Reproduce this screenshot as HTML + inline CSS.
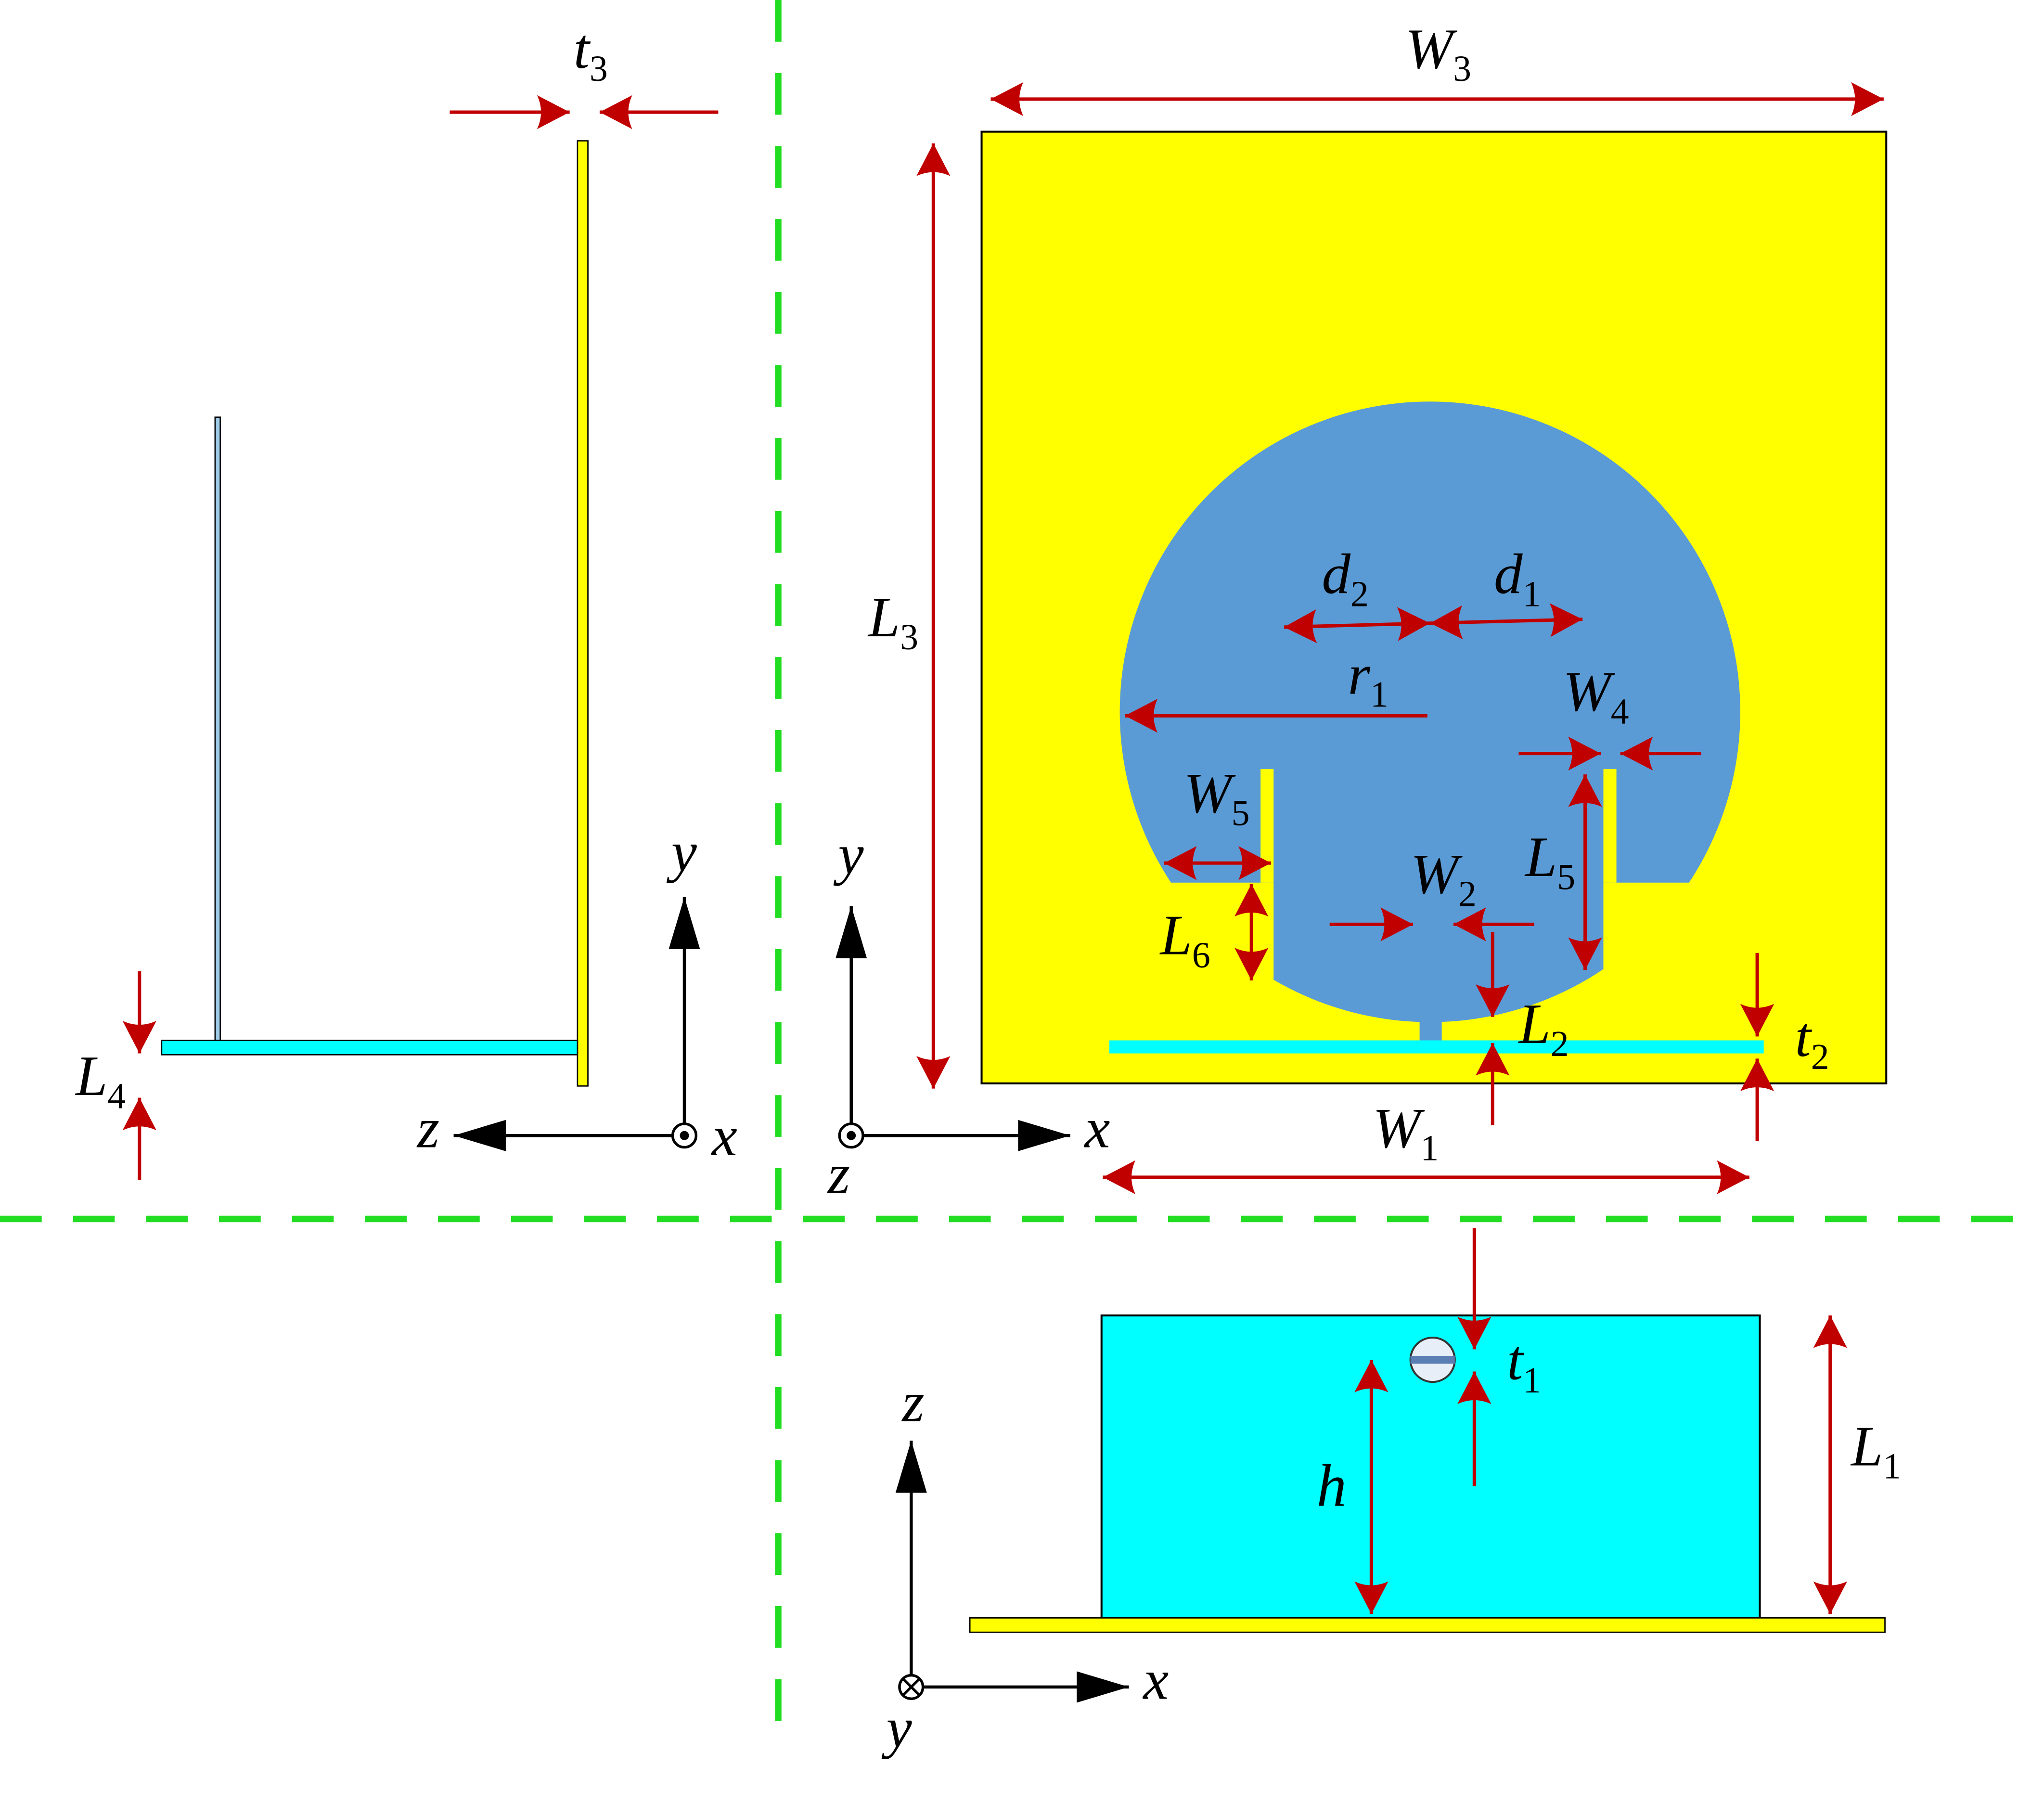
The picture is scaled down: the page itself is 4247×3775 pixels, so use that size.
<!DOCTYPE html>
<html><head><meta charset="utf-8"><style>
html,body{margin:0;padding:0;background:#fff;}
svg{display:block}
text{font-family:"Liberation Serif",serif;font-style:italic;fill:#000}
</style></head><body>
<svg width="4247" height="3775" viewBox="0 0 1568 1393.7" xmlns="http://www.w3.org/2000/svg">
<defs>
<marker id="r" markerUnits="userSpaceOnUse" markerWidth="30" markerHeight="30" viewBox="-26 -14 30 28" refX="0" refY="0" orient="auto-start-reverse">
<path d="M0,0 L-25,-13 Q-19,0 -25,13 Z" fill="#c00000"/>
</marker>
<marker id="b" markerUnits="userSpaceOnUse" markerWidth="44" markerHeight="30" viewBox="-42 -14 44 28" refX="0" refY="0" orient="auto">
<path d="M0,0 L-40,-12 L-40,12 Z" fill="#000"/>
</marker>
<clipPath id="cp">
<rect x="800" y="250" width="600" height="427"/>
<rect x="977" y="600" width="253" height="300"/>
</clipPath>
</defs>

<g stroke="#22dd22" stroke-width="5" stroke-dasharray="32,24">
<line x1="597" y1="0" x2="597" y2="1340"/>
<line x1="0" y1="935" x2="1568" y2="935"/>
</g>

<rect x="443" y="108" width="8" height="725" fill="#ffff00" stroke="#000" stroke-width="1"/>
<rect x="165" y="320" width="4" height="480" fill="#9ecbe8" stroke="#000" stroke-width="1"/>
<rect x="124" y="798" width="319" height="11" fill="#00ffff" stroke="#000" stroke-width="1"/>

<g stroke="#c00000" stroke-width="2.6" fill="none">
<line x1="345" y1="86" x2="437" y2="86" marker-end="url(#r)"/>
<line x1="551" y1="86" x2="460" y2="86" marker-end="url(#r)"/>
<line x1="107" y1="745" x2="107" y2="808" marker-end="url(#r)"/>
<line x1="107" y1="905" x2="107" y2="842" marker-end="url(#r)"/>
</g>
<text x="440" y="52" font-size="44">t<tspan font-size="28" dy="10" font-style="normal">3</tspan></text>
<text x="58" y="840" font-size="44">L<tspan font-size="28" dy="10" font-style="normal">4</tspan></text>

<g stroke="#000" stroke-width="2.4">
<line x1="525" y1="862" x2="525" y2="688" marker-end="url(#b)"/>
<line x1="516" y1="871" x2="348" y2="871" marker-end="url(#b)"/>
</g>
<circle cx="525" cy="871" r="9" fill="#fff" stroke="#000" stroke-width="2"/>
<circle cx="525" cy="871" r="3.5" fill="#000"/>
<text x="515" y="668" font-size="44">y</text>
<text x="320" y="880" font-size="44">z</text>
<text x="546" y="886" font-size="44">x</text>

<g stroke="#000" stroke-width="2.4">
<line x1="653" y1="862" x2="653" y2="695" marker-end="url(#b)"/>
<line x1="662" y1="871" x2="821" y2="871" marker-end="url(#b)"/>
</g>
<circle cx="653" cy="871" r="9" fill="#fff" stroke="#000" stroke-width="2"/>
<circle cx="653" cy="871" r="3.5" fill="#000"/>
<text x="643" y="670" font-size="44">y</text>
<text x="832" y="880" font-size="44">x</text>
<text x="635" y="915" font-size="44">z</text>

<rect x="753" y="101" width="694" height="730" fill="#ffff00" stroke="#000" stroke-width="1.5"/>
<circle cx="1097" cy="546" r="238" fill="#5b9bd5" clip-path="url(#cp)"/>
<rect x="967" y="590" width="10" height="87" fill="#ffff00"/>
<rect x="1230" y="590" width="10" height="87" fill="#ffff00"/>
<rect x="1089" y="775" width="17" height="25" fill="#5b9bd5"/>
<rect x="851" y="798" width="502" height="10" fill="#00ffff"/>

<g stroke="#c00000" stroke-width="2.6" fill="none">
<line x1="760" y1="76" x2="1445" y2="76" marker-start="url(#r)" marker-end="url(#r)"/>
<line x1="716" y1="110" x2="716" y2="835" marker-start="url(#r)" marker-end="url(#r)"/>
<line x1="985" y1="481" x2="1097" y2="478" marker-start="url(#r)" marker-end="url(#r)"/>
<line x1="1097" y1="478" x2="1214" y2="475" marker-start="url(#r)" marker-end="url(#r)"/>
<line x1="1095" y1="549" x2="863" y2="549" marker-end="url(#r)"/>
<line x1="1165" y1="578" x2="1228" y2="578" marker-end="url(#r)"/>
<line x1="1305" y1="578" x2="1243" y2="578" marker-end="url(#r)"/>
<line x1="1216" y1="594" x2="1216" y2="744" marker-start="url(#r)" marker-end="url(#r)"/>
<line x1="893" y1="662" x2="975" y2="662" marker-start="url(#r)" marker-end="url(#r)"/>
<line x1="960" y1="678" x2="960" y2="752" marker-start="url(#r)" marker-end="url(#r)"/>
<line x1="1020" y1="709" x2="1084" y2="709" marker-end="url(#r)"/>
<line x1="1177" y1="709" x2="1115" y2="709" marker-end="url(#r)"/>
<line x1="1145" y1="715" x2="1145" y2="780" marker-end="url(#r)"/>
<line x1="1145" y1="863" x2="1145" y2="800" marker-end="url(#r)"/>
<line x1="1348" y1="731" x2="1348" y2="795" marker-end="url(#r)"/>
<line x1="1348" y1="875" x2="1348" y2="812" marker-end="url(#r)"/>
<line x1="846" y1="903" x2="1342" y2="903" marker-start="url(#r)" marker-end="url(#r)"/>
</g>
<text x="1078" y="52" font-size="44">W<tspan font-size="28" dy="10" font-style="normal">3</tspan></text>
<text x="666" y="488" font-size="44">L<tspan font-size="28" dy="10" font-style="normal">3</tspan></text>
<text x="1014" y="455" font-size="44">d<tspan font-size="28" dy="10" font-style="normal">2</tspan></text>
<text x="1146" y="455" font-size="44">d<tspan font-size="28" dy="10" font-style="normal">1</tspan></text>
<text x="1034" y="532" font-size="44">r<tspan font-size="28" dy="10" font-style="normal">1</tspan></text>
<text x="1199" y="545" font-size="44">W<tspan font-size="28" dy="10" font-style="normal">4</tspan></text>
<text x="1170" y="672" font-size="44">L<tspan font-size="28" dy="10" font-style="normal">5</tspan></text>
<text x="908" y="623" font-size="44">W<tspan font-size="28" dy="10" font-style="normal">5</tspan></text>
<text x="890" y="732" font-size="44">L<tspan font-size="28" dy="10" font-style="normal">6</tspan></text>
<text x="1082" y="685" font-size="44">W<tspan font-size="28" dy="10" font-style="normal">2</tspan></text>
<text x="1165" y="800" font-size="44">L<tspan font-size="28" dy="10" font-style="normal">2</tspan></text>
<text x="1377" y="810" font-size="44">t<tspan font-size="28" dy="10" font-style="normal">2</tspan></text>
<text x="1053" y="880" font-size="44">W<tspan font-size="28" dy="10" font-style="normal">1</tspan></text>

<rect x="845" y="1009" width="505" height="232" fill="#00ffff" stroke="#000" stroke-width="1.5"/>
<rect x="744" y="1241" width="702" height="11" fill="#ffff00" stroke="#000" stroke-width="1"/>
<circle cx="1099" cy="1043" r="17" fill="#e8eef8" stroke="#333" stroke-width="1.5"/>
<rect x="1082" y="1040" width="34" height="6" fill="#5b7fb5"/>
<g stroke="#c00000" stroke-width="2.6" fill="none">
<line x1="1131" y1="942" x2="1131" y2="1035" marker-end="url(#r)"/>
<line x1="1131" y1="1140" x2="1131" y2="1052" marker-end="url(#r)"/>
<line x1="1052" y1="1043" x2="1052" y2="1238" marker-start="url(#r)" marker-end="url(#r)"/>
<line x1="1404" y1="1009" x2="1404" y2="1238" marker-start="url(#r)" marker-end="url(#r)"/>
</g>
<text x="1156" y="1058" font-size="44">t<tspan font-size="28" dy="10" font-style="normal">1</tspan></text>
<text x="1010" y="1155" font-size="46">h</text>
<text x="1420" y="1124" font-size="44">L<tspan font-size="28" dy="10" font-style="normal">1</tspan></text>

<g stroke="#000" stroke-width="2.4">
<line x1="699" y1="1285" x2="699" y2="1105" marker-end="url(#b)"/>
<line x1="708" y1="1294" x2="866" y2="1294" marker-end="url(#b)"/>
</g>
<circle cx="699" cy="1294" r="9" fill="#fff" stroke="#000" stroke-width="2"/>
<line x1="693" y1="1288" x2="705" y2="1300" stroke="#000" stroke-width="2"/>
<line x1="705" y1="1288" x2="693" y2="1300" stroke="#000" stroke-width="2"/>
<text x="692" y="1090" font-size="44">z</text>
<text x="877" y="1303" font-size="44">x</text>
<text x="680" y="1340" font-size="44">y</text>
</svg>
</body></html>
